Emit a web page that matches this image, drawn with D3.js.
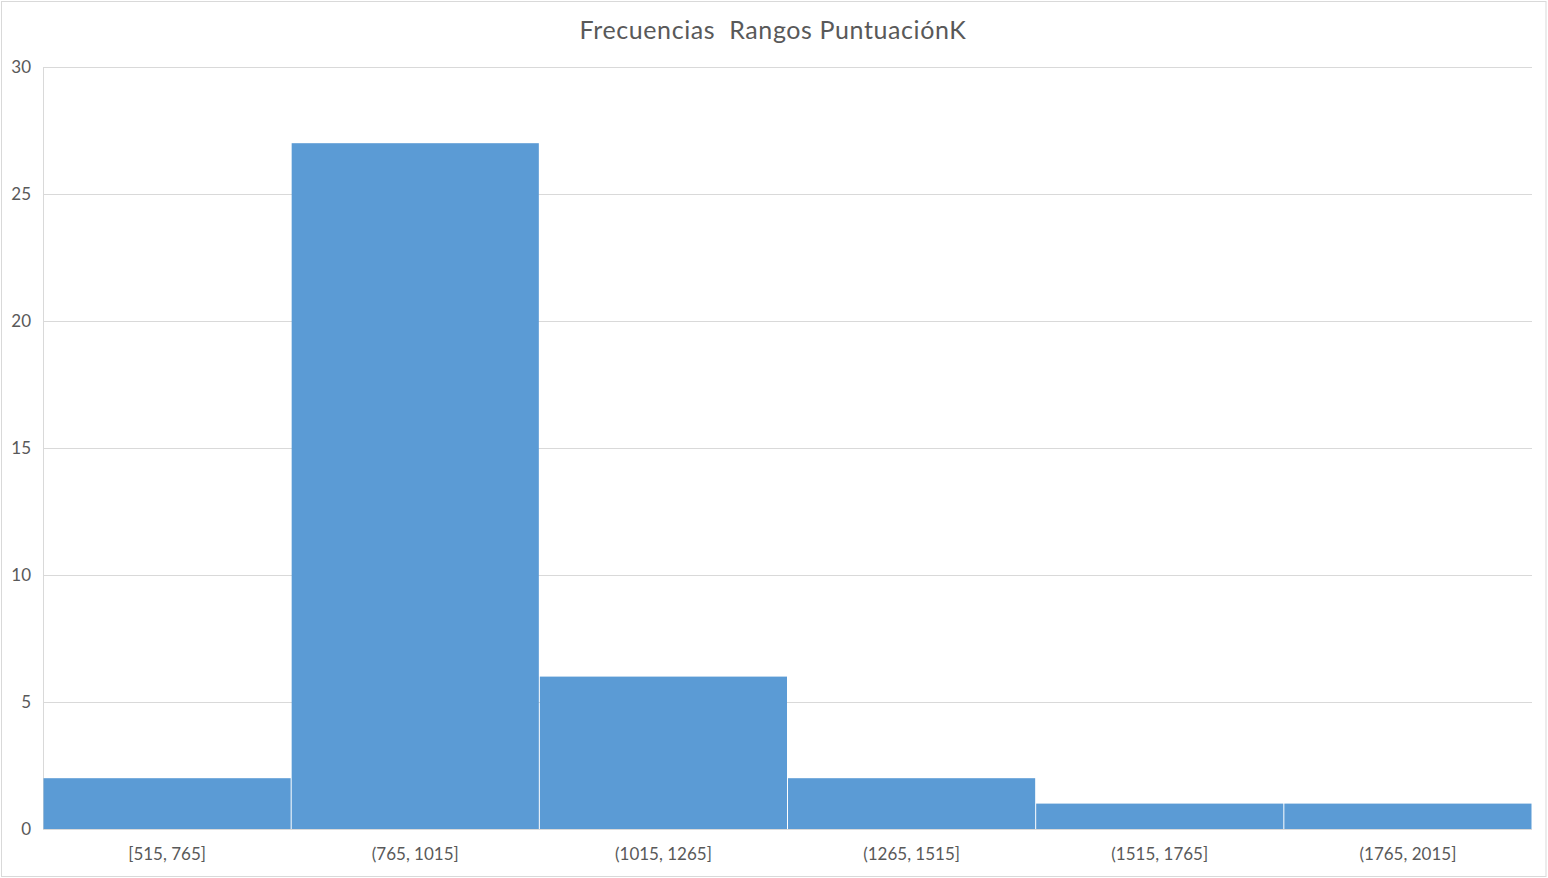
<!DOCTYPE html>
<html>
<head>
<meta charset="utf-8">
<script src="https://cdn.jsdelivr.net/npm/d3@7"></script>
<style>
  html, body { margin: 0; padding: 0; background: #fff; }
  svg { display: block; }
  text { font-family: Lato, "Open Sans", sans-serif; fill: #595959; }
</style>
</head>
<body>
<div id="chart"></div>
<script>
var categories = ['[515, 765]', '(765, 1015]', '(1015, 1265]', '(1265, 1515]', '(1515, 1765]', '(1765, 2015]'];
var frequencies = [2, 27, 6, 2, 1, 1];
var yTicks = [0, 5, 10, 15, 20, 25, 30];

var W = 1548, H = 878;
var margin = { top: 67, right: 16, bottom: 49, left: 43 };
var iw = W - margin.left - margin.right;
var ih = H - margin.top - margin.bottom;

var svg = d3.select('#chart').append('svg')
    .attr('width', W)
    .attr('height', H);

// chart border
svg.append('rect')
    .attr('x', 1.5).attr('y', 1.5)
    .attr('width', W - 3.5).attr('height', H - 3)
    .attr('fill', '#fff')
    .attr('stroke', '#d9d9d9')
    .attr('stroke-width', 1);

svg.append('text')
    .attr('x', 773)
    .attr('y', 39)
    .attr('text-anchor', 'middle')
    .style('font-size', '25px')
    .style('letter-spacing', '0.6px')
    .style('white-space', 'pre')
    .text('Frecuencias  Rangos PuntuaciónK');

var g = svg.append('g')
    .attr('transform', 'translate(' + margin.left + ',' + margin.top + ')');

var x = d3.scaleBand()
    .domain(categories)
    .range([0, iw])
    .paddingInner(0)
    .paddingOuter(0);

var y = d3.scaleLinear()
    .domain([0, 30])
    .range([ih, 0]);

// gridlines
g.append('g')
    .selectAll('line')
    .data(yTicks)
    .enter().append('line')
    .attr('x1', 0)
    .attr('x2', iw)
    .attr('y1', function(d) { return Math.round(y(d)) + 0.5; })
    .attr('y2', function(d) { return Math.round(y(d)) + 0.5; })
    .attr('stroke', '#d9d9d9')
    .attr('stroke-width', 1);

// left axis line
g.append('line')
    .attr('x1', 0.5).attr('x2', 0.5)
    .attr('y1', 0).attr('y2', ih)
    .attr('stroke', '#d9d9d9');

// bars
g.append('g')
    .selectAll('rect')
    .data(frequencies)
    .enter().append('rect')
    .attr('x', function(d, i) { return x(categories[i]) + 0.5; })
    .attr('width', x.bandwidth() - 1)
    .attr('y', function(d) { return y(d); })
    .attr('height', function(d) { return ih - y(d); })
    .attr('fill', '#5b9bd5');

// y axis
var yAxis = d3.axisLeft(y)
    .tickValues(yTicks)
    .tickSize(0)
    .tickPadding(12);

g.append('g')
    .call(yAxis)
    .call(function(s) { s.select('.domain').remove(); })
    .selectAll('text')
    .style('font-size', '17px')
    .style('fill', '#595959')
    .style('font-family', 'Lato, "Open Sans", sans-serif');

// x axis
var xAxis = d3.axisBottom(x)
    .tickSize(0)
    .tickPadding(19);

g.append('g')
    .attr('transform', 'translate(0,' + ih + ')')
    .call(xAxis)
    .call(function(s) { s.select('.domain').remove(); })
    .selectAll('text')
    .style('font-size', '17px')
    .style('fill', '#595959')
    .style('font-family', 'Lato, "Open Sans", sans-serif');
</script>
</body>
</html>
